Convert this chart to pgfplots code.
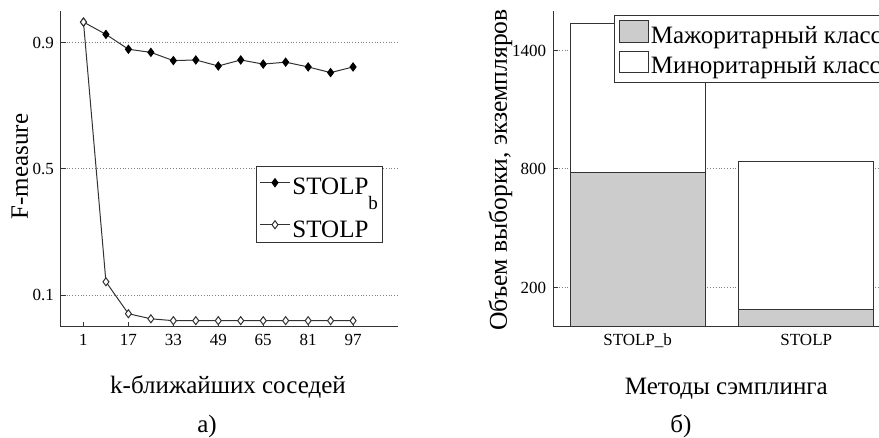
\documentclass[border=0pt]{standalone}
\usepackage{fontspec}
\setmainfont{Liberation Serif}
\usepackage{pgfplots}
\pgfplotsset{compat=1.18}
\definecolor{majgray}{HTML}{CCCCCC}
\definecolor{edge}{HTML}{333333}
\newcommand\tickfont{\fontsize{8.5}{10}\selectfont}
\newcommand\labfont{\fontsize{12.5}{15}\selectfont}
\begin{document}
\begin{tikzpicture}[x=0.5pt,y=0.5pt]
\pgfplotsset{
  common/.style={
    scale only axis,
    anchor=south west,
    height=158pt,
    axis x line*=bottom,
    axis y line*=left,
    axis line style={-, edge, line width=0.5pt},
    tick style={edge, line width=0.5pt},
    tick align=inside,
    major tick length=2.5pt,
    ymajorgrids,
    grid style={densely dotted, gray, line width=0.5pt},
    /pgf/number format/assume math mode=true,
    tick label style={font=\tickfont},
    label style={font=\labfont},
    legend cell align=left,
  }
}
\begin{axis}[common,
  at={(30.5pt,55.5pt)}, width=168.5pt,
  xmin=-7, xmax=113, ymin=0, ymax=1,
  xtick={1,17,33,49,65,81,97},
  xticklabels={1,17,33,49,65,81,97},
  ytick={0.1,0.5,0.9},
  yticklabels={0.1,0.5,0.9},
  xlabel={k-ближайших соседей},
  xlabel style={at={(axis description cs:0.4955,-0.212)}, anchor=base},
  ylabel={F-measure},
  ylabel style={at={(axis description cs:-0.098,0.508)}, anchor=base, rotate=0},
  legend image code/.code={\draw[mark repeat=2,mark phase=2,#1] plot coordinates {(0pt,0pt) (7.5pt,0pt) (15pt,0pt)};},
  legend style={at={(axis description cs:0.5786,0.51)}, anchor=north west,
    draw=edge, line width=0.5pt, font=\fontsize{12.5}{13}\selectfont,
    inner xsep=1.5pt, inner ysep=0.5pt, row sep=4.85pt,
    nodes={inner ysep=0.5pt, inner xsep=1pt}},
]
\addplot[edge, line width=0.5pt, mark=diamond*, mark size=2pt,
  mark options={fill=black, draw=black}] coordinates {
  (1,0.965) (9,0.926) (17,0.879) (25,0.869) (33,0.843) (41,0.845) (49,0.826)
  (57,0.845) (65,0.832) (73,0.838) (81,0.823) (89,0.805) (97,0.823)};
\addplot[edge, line width=0.5pt, mark=diamond*, mark size=2pt,
  mark options={fill=white, draw=edge}] coordinates {
  (1,0.965) (9,0.143) (17,0.042) (25,0.026) (33,0.020) (41,0.020) (49,0.020)
  (57,0.020) (65,0.020) (73,0.020) (81,0.020) (89,0.020) (97,0.020)};
\legend{\rule{0pt}{12.85pt}STOLP\raisebox{-7.5pt}{\fontsize{9.5}{10}\selectfont b}\hspace{3pt}, \rule{0pt}{14.45pt}STOLP}
\end{axis}
\begin{axis}[common,
  at={(276.65pt,55.5pt)}, width=168.65pt,
  xmin=0.5, xmax=2.5, ymin=0, ymax=1600,
  ybar stacked, bar width=0.8,
  xtick={1,2}, xticklabels={STOLP\_b, STOLP},
  ytick={200,800,1400}, yticklabels={200,800,1400},
  xlabel={Методы сэмплинга},
  xlabel style={at={(axis description cs:0.513,-0.215)}, anchor=base},
  ylabel={Объем выборки, экземпляров},
  ylabel style={at={(axis description cs:-0.1375,0.497)}, anchor=base, rotate=0, font=\fontsize{12.8}{15}\selectfont},
  area legend,
  legend image code/.code={\draw[#1] (0pt,-3pt) rectangle (14.65pt,7.8pt);},
  legend style={at={(axis description cs:0.1803,0.9873)}, anchor=north west,
    draw=edge, line width=0.5pt, font=\fontsize{12.5}{13}\selectfont,
    inner xsep=2pt, inner ysep=2.35pt, row sep=1.7pt,
    nodes={inner ysep=0.5pt, inner xsep=1pt}},
]
\addplot[fill=majgray, draw=edge, line width=0.5pt] coordinates {(1,783) (2,90)};
\addplot[fill=white, draw=edge, line width=0.5pt] coordinates {(1,755) (2,747)};
\legend{\raisebox{0pt}[8.3pt][0pt]{Мажоритарный класс}, \raisebox{0pt}[8.3pt][0pt]{Миноритарный класс}}
\end{axis}
\node[anchor=base, font=\labfont] at (207,5) {а)};
\node[anchor=base, font=\labfont] at (681,5) {б)};
\pgfresetboundingbox
\useasboundingbox (0,0) rectangle (879,438);
\end{tikzpicture}
\end{document}
